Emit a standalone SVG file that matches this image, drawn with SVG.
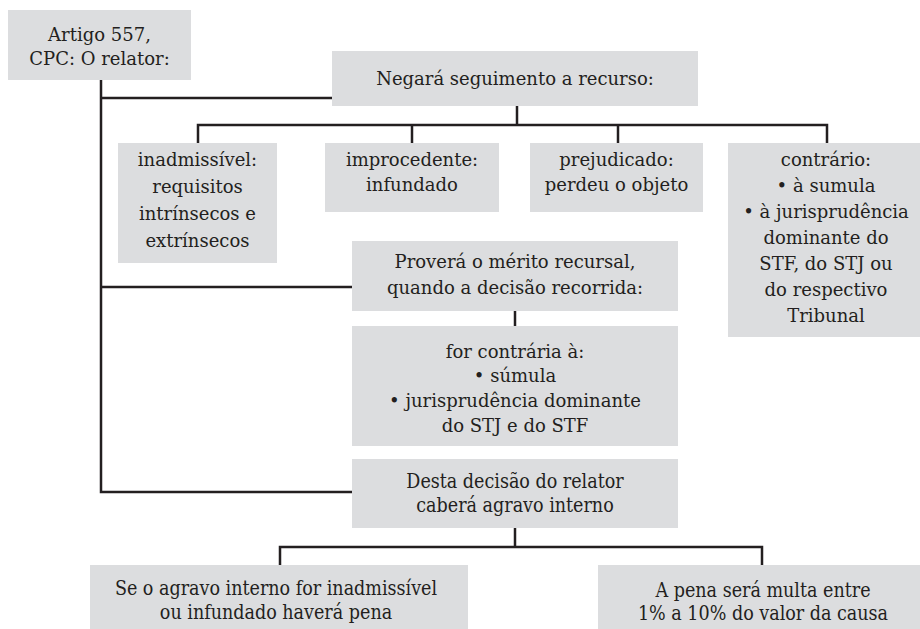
<svg xmlns="http://www.w3.org/2000/svg" width="920" height="629" viewBox="0 0 920 629">
<style>
.box{fill:#dcdddf}
.t{font-family:"DejaVu Serif",serif;font-size:18px;fill:#231f20;text-anchor:middle}
.c{font-family:"DejaVu Serif Condensed","DejaVu Serif",serif;font-size:19.5px}
.ln{fill:none;stroke:#231f20;stroke-width:2.5}
</style>
<rect width="920" height="629" fill="#ffffff"/>
<g id="connectors">
<path class="ln" d="M101,80 V492 H352"/>
<path class="ln" d="M101,98 H332"/>
<path class="ln" d="M101,287 H352"/>
<path class="ln" d="M517,106 V125"/>
<path class="ln" d="M198,143 V125 H827 V143"/>
<path class="ln" d="M412,125 V143"/>
<path class="ln" d="M618,125 V143"/>
<path class="ln" d="M515,311 V326"/>
<path class="ln" d="M515,528 V547"/>
<path class="ln" d="M280,565 V547 H762 V565"/>
</g>
<g id="artigo">
<rect class="box" x="8" y="10" width="183" height="70"/>
<text class="t" x="99.5" y="41">Artigo 557,</text>
<text class="t" x="99.5" y="65">CPC: O relator:</text>
</g>
<g id="negara">
<rect class="box" x="332" y="51" width="366" height="55"/>
<text class="t" x="515" y="85">Negará seguimento a recurso:</text>
</g>
<g id="inadmissivel">
<rect class="box" x="118" y="143" width="159" height="120"/>
<text class="t" x="197.5" y="166">inadmissível:</text>
<text class="t" x="197.5" y="193">requisitos</text>
<text class="t" x="197.5" y="220">intrínsecos e</text>
<text class="t" x="197.5" y="247">extrínsecos</text>
</g>
<g id="improcedente">
<rect class="box" x="325" y="143" width="174" height="69"/>
<text class="t" x="412" y="166">improcedente:</text>
<text class="t" x="412" y="191">infundado</text>
</g>
<g id="prejudicado">
<rect class="box" x="530" y="143" width="173" height="69"/>
<text class="t" x="616.5" y="166">prejudicado:</text>
<text class="t" x="616.5" y="191">perdeu o objeto</text>
</g>
<g id="contrario">
<rect class="box" x="728" y="143" width="192" height="194"/>
<text class="t" x="826" y="166">contrário:</text>
<text class="t" x="826" y="192">• à sumula</text>
<text class="t" x="826" y="218">• à jurisprudência</text>
<text class="t" x="826" y="244">dominante do</text>
<text class="t" x="826" y="270">STF, do STJ ou</text>
<text class="t" x="826" y="296">do respectivo</text>
<text class="t" x="826" y="322">Tribunal</text>
</g>
<g id="provera">
<rect class="box" x="352" y="241" width="326" height="70"/>
<text class="t" x="515" y="268">Proverá o mérito recursal,</text>
<text class="t" x="515" y="294">quando a decisão recorrida:</text>
</g>
<g id="forcontraria">
<rect class="box" x="352" y="326" width="326" height="120"/>
<text class="t" x="515" y="358">for contrária à:</text>
<text class="t" x="515" y="382">• súmula</text>
<text class="t" x="515" y="407">• jurisprudência dominante</text>
<text class="t" x="515" y="432">do STJ e do STF</text>
</g>
<g id="desta">
<rect class="box" x="352" y="459" width="326" height="69"/>
<text class="t c" x="515" y="488">Desta decisão do relator</text>
<text class="t c" x="515" y="512">caberá agravo interno</text>
</g>
<g id="seagravo">
<rect class="box" x="90" y="565" width="378" height="64"/>
<text class="t c" x="276" y="595">Se o agravo interno for inadmissível</text>
<text class="t c" x="276" y="619">ou infundado haverá pena</text>
</g>
<g id="pena">
<rect class="box" x="598" y="565" width="322" height="64"/>
<text class="t c" x="763" y="597">A pena será multa entre</text>
<text class="t c" x="763" y="620">1% a 10% do valor da causa</text>
</g>
</svg>
